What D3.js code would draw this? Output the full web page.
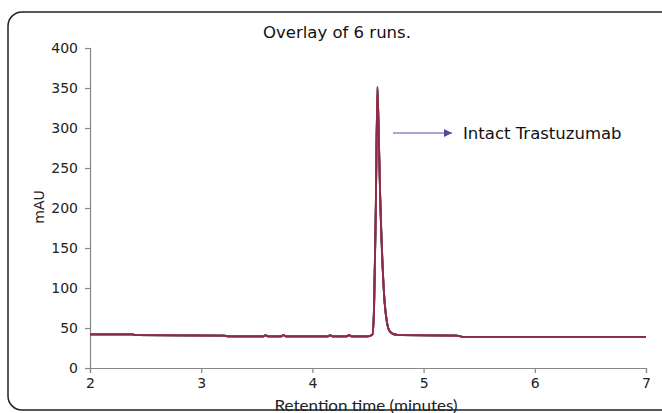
<!DOCTYPE html>
<html><head><meta charset="utf-8">
<script src="https://cdn.jsdelivr.net/npm/d3@7"></script>
<style>body{margin:0;background:#fff;overflow:hidden}svg{display:block}</style>
</head><body>
<svg id="c" width="662" height="413"></svg>
<script>
const title = "Overlay of 6 runs.";
const xLabel = "Retention time (minutes)";
const yLabel = "mAU";
const annotation = "Intact Trastuzumab";
const xTicks = [2, 3, 4, 5, 6, 7];
const yTicks = [0, 50, 100, 150, 200, 250, 300, 350, 400];
const times = [2.0, 2.38, 2.42, 3.2, 3.25, 3.56, 3.58, 3.6, 3.72, 3.74, 3.76, 4.14, 4.16, 4.18, 4.31, 4.33, 4.35, 4.5, 4.54, 4.555, 4.57, 4.585, 4.595, 4.61, 4.63, 4.65, 4.67, 4.69, 4.72, 4.76, 4.8, 5.3, 5.35, 7.0];
const run1 = [42, 42, 41, 40.5, 39.5, 39.5, 41, 39.5, 39.5, 41.5, 39.5, 39.5, 41, 39.5, 39.5, 41.5, 39.5, 39.5, 42, 78, 196, 348, 302, 212, 132, 82, 58, 47, 43, 41.5, 41, 40.5, 39, 39];
const run2 = [42, 42, 41, 40.5, 39.5, 39.5, 40.5, 39.5, 39.5, 41, 39.5, 39.5, 40.5, 39.5, 39.5, 41, 39.5, 39.5, 41.5, 74, 190, 346, 305, 215, 134, 83, 58, 47, 43, 41.5, 41, 40.5, 39, 39];
const run3 = [42, 42, 41, 40.5, 39.5, 39.5, 41, 39.5, 39.5, 41, 39.5, 39.5, 41, 39.5, 39.5, 41, 39.5, 39.5, 42, 80, 200, 350, 300, 210, 131, 81, 57, 47, 43, 41.5, 41, 40.5, 39, 39];
const run4 = [42, 42, 41, 40.5, 39.5, 39.5, 41, 39.5, 39.5, 41.5, 39.5, 39.5, 41, 39.5, 39.5, 41.5, 39.5, 39.5, 41.5, 76, 194, 349, 303, 213, 133, 82, 58, 47, 43, 41.5, 41, 40.5, 39, 39];
const run5 = [42, 42, 41, 40.5, 39.5, 39.5, 41, 39.5, 39.5, 41.5, 39.5, 39.5, 41, 39.5, 39.5, 41.5, 39.5, 39.5, 42, 79, 198, 351, 301, 211, 131, 81, 57, 47, 43, 41.5, 41, 40.5, 39, 39];
const run6 = [42, 42, 41, 40.5, 39.5, 39.5, 41, 39.5, 39.5, 41.5, 39.5, 39.5, 41, 39.5, 39.5, 41.5, 39.5, 39.5, 42, 82, 204, 352, 298, 208, 129, 80, 57, 47, 43, 41.5, 41, 40.5, 39, 39];
const runs = [run2, run3, run4, run5, run1, run6];
const runColors = ["#3a5aa8", "#3aa0a8", "#6a3a9a", "#5a8a3a", "#c03a5a", "#8e2a46"];

const svg = d3.select("#c");
const m = {l: 90, r: 16, t: 48, b: 45};
const W = 662, H = 413;
const x = d3.scaleLinear().domain([2, 7]).range([m.l, W - m.r]);
const y = d3.scaleLinear().domain([0, 400]).range([H - m.b, m.t]);

// frame (continues past the right edge)
svg.append("rect").attr("x", 8).attr("y", 12).attr("width", 900).attr("height", 398)
  .attr("rx", 14).attr("fill", "none").attr("stroke", "#222").attr("stroke-width", 1.5);

const font = "'DejaVu Sans', Verdana, sans-serif";

const gx = svg.append("g").attr("transform", `translate(0,${y(0)})`)
  .call(d3.axisBottom(x).tickValues(xTicks).tickSize(5).tickSizeOuter(5).tickFormat(d3.format("d")));
const gy = svg.append("g").attr("transform", `translate(${x(2)},0)`)
  .call(d3.axisLeft(y).tickValues(yTicks).tickSize(5).tickSizeOuter(5).tickFormat(d3.format("d")));
[gx, gy].forEach(g => {
  g.select(".domain").attr("stroke", "#888").attr("stroke-width", 1.2);
  g.selectAll(".tick line").attr("stroke", "#888").attr("stroke-width", 1.2);
  g.selectAll(".tick text").attr("fill", "#222").style("font-family", font).style("font-size", "14px");
});
gx.selectAll(".tick text").attr("dy", "0.71em").attr("y", 10);
gy.selectAll(".tick text").attr("x", -12);

const line = d3.line().x((d, i) => x(times[i])).y(d => y(d)).curve(d3.curveMonotoneX);
runs.forEach((r, k) => {
  svg.append("path").datum(r).attr("d", line).attr("fill", "none")
    .attr("stroke", runColors[k]).attr("stroke-width", 1.8).attr("stroke-linejoin", "round");
});

svg.append("text").attr("x", 337).attr("y", 38).attr("text-anchor", "middle")
  .style("font-family", font).style("font-size", "16.5px").attr("fill", "#111").text(title);

svg.append("text").attr("x", 366).attr("y", 411).attr("text-anchor", "middle")
  .attr("textLength", 183).attr("lengthAdjust", "spacingAndGlyphs")
  .style("font-family", "Lato, 'Open Sans', sans-serif").style("font-size", "16px").attr("fill", "#222").text(xLabel);

svg.append("text").attr("transform", "translate(44,207) rotate(-90)").attr("text-anchor", "middle")
  .style("font-family", font).style("font-size", "14px").attr("fill", "#222").text(yLabel);

// annotation arrow
const defs = svg.append("defs");
defs.append("marker").attr("id", "ah").attr("viewBox", "0 0 10 10").attr("refX", 10).attr("refY", 5)
  .attr("markerWidth", 8).attr("markerHeight", 8).attr("markerUnits", "userSpaceOnUse").attr("orient", "auto")
  .append("path").attr("d", "M0,0 L10,5 L0,10 z").attr("fill", "#5a44a0");
svg.append("line").attr("x1", 393).attr("y1", 133).attr("x2", 452).attr("y2", 133)
  .attr("stroke", "#5a44a0").attr("stroke-width", 1.2).attr("marker-end", "url(#ah)");
svg.append("text").attr("x", 463).attr("y", 139)
  .style("font-family", font).style("font-size", "16.5px").attr("fill", "#111").text(annotation);
</script>
</body></html>
